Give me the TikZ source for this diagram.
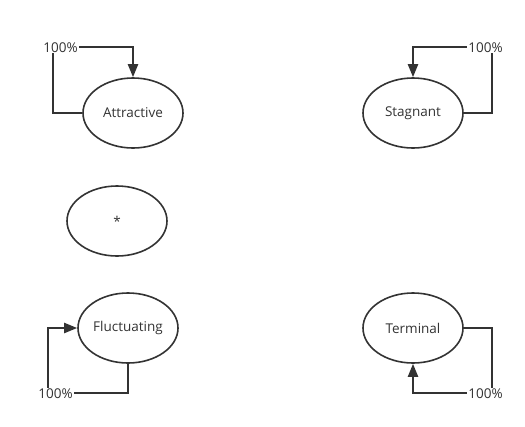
\documentclass[tikz,border=0pt]{standalone}
\usepackage{fontspec}
\setmainfont{Open Sans}
\usetikzlibrary{shapes.geometric,arrows.meta}
\begin{document}
\begin{tikzpicture}[x=1pt,y=-1pt,
  state/.style={draw=black!80,line width=1.6pt,ellipse,minimum width=100pt,minimum height=70pt,inner sep=0pt,font=\fontsize{13.5}{15}\selectfont,text=black!80},
  loop/.style={draw=black!80,line width=2.1pt},
  tip/.style={-{Triangle[length=13pt,width=10pt]}},
  pct/.style={fill=white,inner sep=1pt,font=\fontsize{13.5}{15}\selectfont,text=black!80}]
\useasboundingbox (0,0) rectangle (525,426);
\node[state] (A) at (133,113) {Attractive};
\node[state] (S) at (413,113) {Stagnant};
\node[state] (X) at (117,221) {*};
\node[state] (F) at (128,328) {Fluctuating};
\node[state] (T) at (413,328) {Terminal};
% Attractive loop
\coordinate (a1) at (53,113);
\coordinate (a2) at (53,47);
\draw[loop,tip] (A.west) -- (a1) -- (a2) -| (A.north);
\node[pct] (LA) at (60.5,47.5) {100\%};
% Stagnant loop
\coordinate (s1) at (492,113);
\coordinate (s2) at (492,47);
\draw[loop,tip] (S.east) -- (s1) -- (s2) -| (S.north);
\node[pct] (LS) at (485.5,47.5) {100\%};
% Fluctuating loop
\coordinate (f1) at (128,393);
\coordinate (f2) at (48,393);
\coordinate (f3) at (48,328);
\draw[loop,tip] (F.south) -- (f1) -- (f2) -- (f3) -- (F.west);
\node[pct] (LF) at (55.5,393.5) {100\%};
% Terminal loop
\coordinate (t1) at (492,328);
\coordinate (t2) at (492,393);
\draw[loop,tip] (T.east) -- (t1) -- (t2) -| (T.south);
\node[pct] (LT) at (485.5,393.5) {100\%};
\end{tikzpicture}
\end{document}
